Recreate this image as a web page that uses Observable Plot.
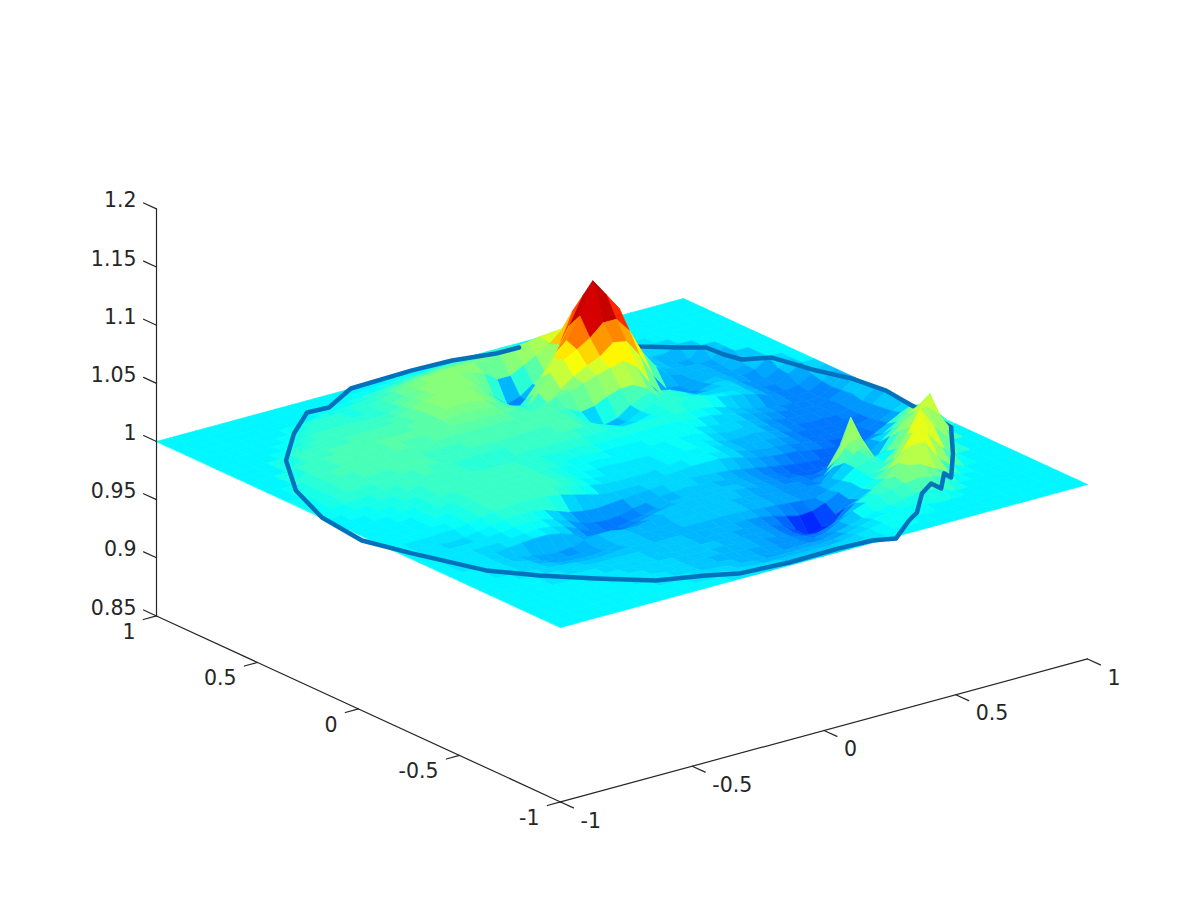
<!DOCTYPE html>
<html><head><meta charset="utf-8">
<style>html,body{margin:0;padding:0;background:#fff}svg{display:block}</style>
<script src="https://cdn.jsdelivr.net/npm/d3@7"></script>
<script src="https://cdn.jsdelivr.net/npm/@observablehq/plot@0.6"></script>
</head><body><div id="chart"></div>
<script>
const xTicks=[-1,-0.5,0,0.5,1], yTicks=[-1,-0.5,0,0.5,1];
const zTicks=[0.85,0.9,0.95,1,1.05,1.1,1.15,1.2];
const zTickLabels=["0.85","0.9","0.95","1","1.05","1.1","1.15","1.2"];
const xyTickLabels=["-1","-0.5","0","0.5","1"];
// z above the plane, in thousandths; rows run y=1 to y=-1 in steps of .05, each row centred on x=0
const zRows=[
[],
[1,1,2,2,3,3,4,4,5,6,6,6,6],
[2,2,3,4,5,7,8,9,10,10,10,9,8,8,8,11,11],
[3,4,4,5,6,8,10,12,13,14,14,14,14,15,16,16,16,18,20,18,8],
[6,6,6,6,6,7,9,12,15,17,19,20,20,19,18,20,23,24,26,27,26,20,12,6,2],
[5,7,7,7,6,6,7,9,13,16,18,20,20,19,14,6,6,12,18,24,34,30,22,12,5,0,-3],
[5,7,8,8,8,7,7,8,11,15,18,20,20,19,12,-2,-12,-8,0,5,27,53,50,42,22,6,-2,-5,-5],
[6,7,8,9,9,9,8,9,10,13,17,19,20,20,17,7,-6,-15,-10,2,28,48,70,66,50,30,8,-2,-6,-9,-9],
[8,8,9,9,10,10,10,10,11,12,15,19,20,20,19,13,5,-8,2,16,30,42,60,87,72,57,22,3,-3,-7,-8,-9,-8],
[8,9,10,10,11,11,11,11,12,13,15,18,19,19,16,11,5,2,12,24,32,38,45,55,55,42,20,5,-5,-8,-7,-8,-9],
[8,9,10,10,11,12,12,12,12,13,14,15,16,17,16,14,12,8,0,6,14,22,28,33,42,40,25,5,-9,-11,-8,-6,-8,-10,-8],
[8,9,10,11,12,12,13,13,13,13,14,14,14,14,14,13,12,8,10,14,17,20,24,27,30,22,5,-8,-14,-11,-7,-5,-8,-10,-8],
[6,8,10,11,12,12,12,12,12,11,11,12,12,12,12,12,12,12,12,10,8,3,5,10,14,14,8,-3,-8,-12,-7,-4,-4,-8,-12,-12,-6],
[6,8,10,11,11,11,12,12,11,10,10,11,11,11,11,11,11,12,12,10,5,-3,-8,-5,3,8,9,7,2,-3,-3,-2,-3,-8,-12,-13,-7],
[4,6,8,9,10,10,11,11,11,10,9,9,10,10,10,10,10,11,11,12,9,5,-2,-6,-4,2,6,7,6,3,0,-1,-2,-4,-8,-12,-14,-12,-6],
[4,6,7,8,8,9,10,11,11,10,8,8,9,9,9,9,9,9,9,9,8,7,3,-1,0,3,6,7,7,6,3,1,-1,-4,-8,-12,-15,-14,-8],
[3,4,5,6,7,8,9,10,10,9,7,5,5,5,6,7,7,7,7,6,6,6,5,5,5,5,5,4,3,1,-2,-6,-9,-11,-13,-14,-15,-15,-9],
[2,3,4,5,6,7,9,10,10,9,8,7,7,7,7,6,5,5,5,4,4,4,4,4,4,4,3,2,1,-1,-4,-6,-9,-11,-13,-14,-15,-13,-8],
[1,2,3,4,5,6,8,9,9,9,9,9,9,8,7,5,4,3,3,2,2,2,2,3,3,3,1,-1,-3,-3,-5,-8,-11,-13,-14,-14,-14,-12,-7],
[0,0,1,2,3,4,6,7,8,9,9,9,9,9,8,7,5,3,2,2,1,1,1,1,2,2,2,0,-3,-5,-4,-6,-9,-12,-14,-15,-15,-15,-13,-9,0],
[0,0,1,1,2,3,5,6,8,9,10,10,10,10,8,6,3,2,1,1,0,0,0,1,2,2,1,-2,-6,-6,-5,-7,-10,-13,-15,-16,-16,-15,-13,-8,0],
[0,0,0,1,2,3,4,6,8,9,10,10,10,10,8,6,2,0,-1,-1,-1,-1,0,1,2,2,0,-3,-6,-7,-7,-8,-11,-14,-16,-17,-17,-16,-13,-7,0],
[0,0,1,2,2,4,6,8,9,10,10,10,9,7,4,1,-1,-2,-2,-2,-1,0,1,1,1,-1,-3,-6,-8,-9,-10,-12,-14,-16,-17,-17,-15,-11,-6],
[0,0,0,1,1,3,5,7,8,9,9,8,6,3,0,-3,-4,-4,-4,-3,-2,-1,0,0,0,-2,-5,-8,-10,-11,-12,-14,-16,-17,-18,-17,-14,-9,-3],
[0,-1,-2,-3,-2,0,2,4,5,5,3,-1,-5,-7,-8,-7,-6,-5,-4,-3,-3,-3,-4,-5,-6,-8,-10,-12,-14,-16,-17,-18,-18,-17,-14,-9,-3,3,2],
[0,-1,-2,-2,-2,-1,0,2,3,2,-1,-5,-10,-13,-14,-13,-10,-8,-6,-5,-4,-5,-6,-7,-8,-10,-12,-15,-17,-18,-19,-19,-16,-8,-6,-4,3,13,10],
[0,-1,-1,-2,-2,-2,-1,0,1,0,-3,-8,-13,-15,-16,-14,-12,-9,-7,-6,-5,-6,-6,-7,-8,-10,-12,-14,-15,-17,-14,3,-8,-12,-4,5,14,19,12],
[-1,-2,-2,-3,-2,-1,0,0,-2,-6,-11,-15,-15,-13,-10,-7,-5,-4,-3,-4,-4,-5,-6,-8,-10,-12,-13,-15,-13,-2,30,3,-10,5,14,20,32],
[-1,-1,-2,-4,-6,-8,-10,-11,-10,-7,-5,-5,-7,-7,-5,-4,-4,-4,-5,-5,-6,-7,-8,-10,-11,-12,-13,-13,-2,15,17,-3,0,14,24,28,18],
[-1,-2,-3,-5,-8,-10,-11,-11,-9,-6,-5,-6,-8,-8,-6,-5,-5,-5,-5,-6,-7,-8,-9,-11,-12,-8,-5,5,12,3,-3,6,20,22,14],
[-1,-1,-3,-4,-6,-8,-9,-9,-8,-6,-5,-6,-7,-7,-6,-6,-6,-6,-6,-7,-8,-9,-10,-11,-12,-8,-3,5,8,3,5,22,40,22,10],
[-1,-2,-3,-4,-5,-6,-6,-5,-4,-5,-6,-6,-6,-6,-7,-8,-8,-8,-9,-11,-14,-17,-16,-12,-6,-1,4,3,8,15,28,18,8],
[0,-1,-2,-3,-3,-4,-4,-4,-4,-5,-5,-6,-6,-7,-7,-8,-9,-10,-12,-15,-22,-30,-26,-18,-8,-2,3,10,20,36,30,16,6],
[-1,-1,-2,-2,-3,-3,-4,-4,-5,-6,-6,-6,-6,-7,-8,-9,-10,-13,-17,-22,-24,-20,-8,-4,1,8,18,30,30,14,5],
[0,-1,-2,-2,-3,-3,-4,-4,-5,-6,-6,-6,-7,-8,-9,-11,-13,-16,-17,-14,-9,0,5,9,14,20,18,12,6],
[0,-1,-1,-2,-3,-4,-4,-5,-6,-6,-7,-8,-9,-10,-12,-13,-14,-12,-6,0,4,8,10,12,14,12,8],
[0,-1,-1,-2,-3,-4,-5,-6,-7,-8,-9,-10,-11,-11,-11,-11,-8,-5,-2,1,3,5,7,7,5],
[-1,-2,-2,-3,-4,-5,-6,-7,-8,-8,-8,-8,-8,-7,-5,-2,1,3,5,4,2],
[-1,-2,-2,-3,-4,-5,-5,-5,-5,-5,-5,-4,-2,0,2,3,2],
[-1,-1,-2,-2,-3,-3,-3,-3,-3,-2,-1,0,1],
[]
];
const boundaryX=[.645,.735,.80,.806,.823,.905,.939,.987,1.006,.99,.986,.97,.839,.711,.715,.63,.632,.558,.447,.387,.262,.195,.075,-.117,-.294,-.383,-.528,-.661,-.781,-.882,-.97,-1.023,-.999,-.921,-.789,-.63,-.49,-.412,-.261,-.021,.126,.267,.353,.498,.626];
const boundaryY=[.757,.677,.627,.547,.48,.438,.284,.149,.005,-.143,-.258,-.364,-.544,-.702,-.662,-.758,-.706,-.757,-.877,-.916,-1.014,-.983,-.976,-.98,-.963,-.915,-.857,-.733,-.609,-.477,-.226,-.047,.182,.413,.634,.802,.92,.913,1.002,1.012,1.005,.972,.97,.912,.782];

// fixed camera of the 3-D view
const U=(x,y)=>263.5*x-202*y;
const V=(x,y,z)=>71.5*x+93*y+1163*(z-1);
const N=41, gx=i=>-1+i*0.05, gy=j=>1-j*0.05;
const zAt=(i,j)=>{const r=zRows[j],p=(N-r.length)/2;const k=i-p;return 1+((k>=0&&k<r.length)?r[k]:0)/1000;};

let cells=[];
for(let j=0;j<N-1;j++)for(let i=0;i<N-1;i++){
  const c=[[i,j],[i+1,j],[i+1,j+1],[i,j+1]];
  const zs=c.map(([a,b])=>zAt(a,b));
  const mean=d3.mean(zs), far=d3.greatest(zs,z=>Math.abs(z-1));
  cells.push({c,zs,shade:(mean+far)/2,max:d3.max(zs),depth:V(gx(i+.5),gy(j+.5),1)});
}
cells.sort((a,b)=>b.depth-a.depth);
const toVerts=list=>list.flatMap((q,id)=>q.c.map(([a,b],n)=>({id,u:U(gx(a),gy(b)),v:V(gx(a),gy(b),q.zs[n]),m:q.shade})));
const low=toVerts(cells.filter(q=>q.max<1.02));
const tall=toVerts(cells.filter(q=>q.max>=1.02));
const pt=(x,y,z)=>({u:U(x,y),v:V(x,y,z)});
const bAll=boundaryX.map((x,k)=>pt(x,boundaryY[k],1));
const bBack=[...bAll.slice(42),...bAll.slice(0,12)];
const bFront=bAll.slice(11,43);

const jet=t=>{const k=Math.min(63,Math.max(0,Math.floor(t*64)));const f=(k+.5)/64;
  const c=a=>Math.round(255*Math.max(0,Math.min(1,1.5-Math.abs(4*f-a))));
  return `rgb(${c(3)},${c(2)},${c(1)})`;};

const zMin=zTicks[0], ink="#262626";
const rules=[
  {id:"x",p:[pt(-1,-1,zMin),pt(1,-1,zMin)]},
  {id:"y",p:[pt(-1,1,zMin),pt(-1,-1,zMin)]},
  {id:"z",p:[pt(-1,1,zMin),pt(-1,1,zTicks[7])]},
  ...xTicks.map((t,k)=>({id:"xt"+k,p:[pt(t,-1,zMin),pt(t,-1.064,zMin)]})),
  ...yTicks.map((t,k)=>({id:"yt"+k,p:[pt(-1,t,zMin),pt(-1.05,t,zMin)]})),
  ...zTicks.map((t,k)=>({id:"zt"+k,p:[pt(-1,1,t),pt(-1,1.064,t)]}))
].flatMap(r=>r.p.map(q=>({...q,id:r.id})));

const cellOpts={x:"u",y:"v",z:"id",fill:"m",stroke:"m",strokeWidth:0.7,curve:"linear-closed"};
const lineOpts={x:"u",y:"v",stroke:"#0072BD",strokeWidth:4.5,strokeLinejoin:"round",strokeLinecap:"round"};
const txt={x:"u",y:"v",text:"s",fontSize:20.5,fontFamily:"DejaVu Sans",fill:ink,lineAnchor:"middle"};

const chart=Plot.plot({
  width:1200,height:900,margin:0,
  x:{domain:[-621.5,578.5],range:[0,1200],axis:null},
  y:{domain:[462.5,-437.5],range:[0,900],axis:null},
  color:{type:"linear",domain:[0.951,1.087],interpolate:jet,clamp:true},
  marks:[
    Plot.line(low,cellOpts),
    Plot.line(bBack,lineOpts),
    Plot.line(tall,cellOpts),
    Plot.line(bFront,lineOpts),
    Plot.line(rules,{x:"u",y:"v",z:"id",stroke:ink,strokeWidth:1.2}),
    Plot.text(zTicks.map((t,k)=>({...pt(-1,1,t),s:zTickLabels[k]})),{...txt,textAnchor:"end",dx:-20,dy:-8}),
    Plot.text(xTicks.map((t,k)=>({...pt(t,-1,zMin),s:xyTickLabels[k]})),{...txt,textAnchor:"start",dx:20,dy:19}),
    Plot.text(yTicks.map((t,k)=>({...pt(-1,t,zMin),s:xyTickLabels[k]})),{...txt,textAnchor:"end",dx:-21,dy:16})
  ]
});
document.getElementById("chart").append(chart);
</script></body></html>
